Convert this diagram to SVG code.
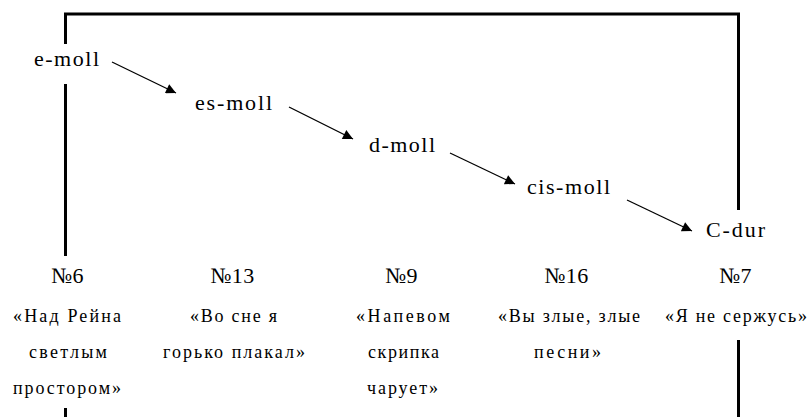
<svg xmlns="http://www.w3.org/2000/svg" width="808" height="417" viewBox="0 0 808 417" font-family="Liberation Serif, Times New Roman, DejaVu Serif, serif">
<style>
text{fill:#000}
.k{font-size:22px}
.n{font-size:22px;text-anchor:middle;letter-spacing:0.5px}
.t{font-size:18px;text-anchor:middle}
.b{stroke:#000;stroke-width:3;fill:none}
.a{stroke:#000;stroke-width:1.3;fill:none;marker-end:url(#ah)}
</style>
<defs>
<marker id="ah" viewBox="0 0 10 10" refX="10" refY="5" markerWidth="14" markerHeight="10" markerUnits="userSpaceOnUse" orient="auto">
<path d="M0,0 L10,5 L0,10 z" fill="#000"/>
</marker>
</defs>
<g id="connectors">
<polyline class="b" points="65.5,44 65.5,14 738.5,14 738.5,210"/>
<line class="b" x1="65.5" y1="84" x2="65.5" y2="256"/>
<line class="b" x1="738.5" y1="340" x2="738.5" y2="417"/>
<line class="b" x1="65.5" y1="408" x2="65.5" y2="417"/>
<line class="a" x1="112" y1="62" x2="176" y2="93"/>
<line class="a" x1="289" y1="107" x2="353" y2="139"/>
<line class="a" x1="450" y1="153" x2="515" y2="184"/>
<line class="a" x1="627" y1="200" x2="692" y2="231"/>
</g>
<g id="e-moll"><text class="k" x="34" y="66" textLength="65" lengthAdjust="spacing">e-moll</text></g>
<g id="es-moll"><text class="k" x="195" y="110" textLength="77" lengthAdjust="spacing">es-moll</text></g>
<g id="d-moll"><text class="k" x="369" y="152" textLength="66" lengthAdjust="spacing">d-moll</text></g>
<g id="cis-moll"><text class="k" x="527" y="194" textLength="83" lengthAdjust="spacing">cis-moll</text></g>
<g id="c-dur"><text class="k" x="706" y="237" textLength="59" lengthAdjust="spacing">C-dur</text></g>
<g id="no6">
<text class="n" x="67.5" y="283">№6</text>
<text class="t" x="67" y="322" textLength="108" lengthAdjust="spacing">«Над Рейна</text>
<text class="t" x="68" y="358" textLength="78" lengthAdjust="spacing">светлым</text>
<text class="t" x="67" y="394" textLength="108" lengthAdjust="spacing">простором»</text>
</g>
<g id="no13">
<text class="n" x="232.5" y="283">№13</text>
<text class="t" x="233.5" y="322" textLength="87" lengthAdjust="spacing">«Во сне я</text>
<text class="t" x="234" y="358" textLength="142" lengthAdjust="spacing">горько плакал»</text>
</g>
<g id="no9">
<text class="n" x="401.5" y="283">№9</text>
<text class="t" x="403" y="322" textLength="94" lengthAdjust="spacing">«Напевом</text>
<text class="t" x="403.5" y="358" textLength="71" lengthAdjust="spacing">скрипка</text>
<text class="t" x="402.5" y="394" textLength="71" lengthAdjust="spacing">чарует»</text>
</g>
<g id="no16">
<text class="n" x="566.5" y="283">№16</text>
<text class="t" x="569" y="322" textLength="142" lengthAdjust="spacing">«Вы злые, злые</text>
<text class="t" x="567.5" y="358" textLength="67" lengthAdjust="spacing">песни»</text>
</g>
<g id="no7">
<text class="n" x="735.5" y="283">№7</text>
<text class="t" x="736" y="322" textLength="142" lengthAdjust="spacing">«Я не сержусь»</text>
</g>
</svg>
